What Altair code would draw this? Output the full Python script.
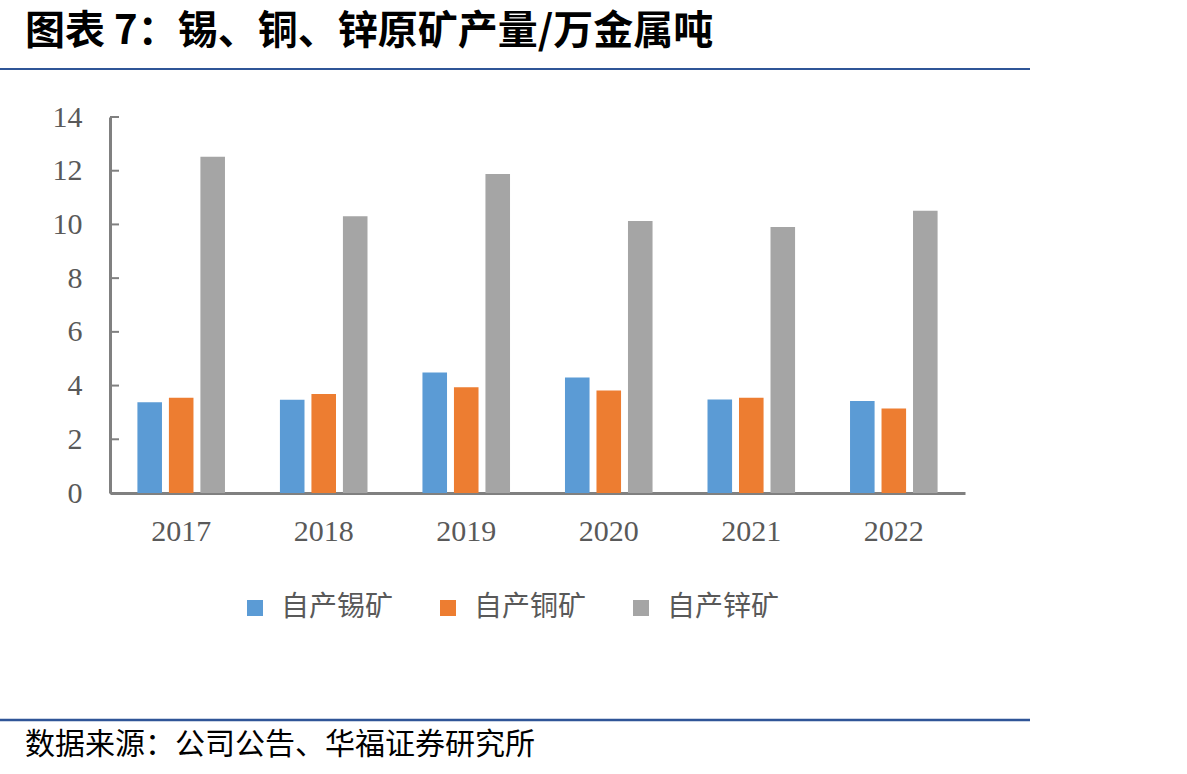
import altair as alt
import pandas as pd

years = ["2017", "2018", "2019", "2020", "2021", "2022"]
series = ["自产锡矿", "自产铜矿", "自产锌矿"]
tin = [3.38, 3.47, 4.49, 4.30, 3.48, 3.43]
copper = [3.55, 3.69, 3.94, 3.82, 3.55, 3.15]
zinc = [12.52, 10.30, 11.88, 10.13, 9.90, 10.51]
colors = ["#5B9BD5", "#ED7D31", "#A5A5A5"]
y_ticks = [0, 2, 4, 6, 8, 10, 12, 14]
title_text = "图表 7：锡、铜、锌原矿产量/万金属吨"
source_text = "数据来源：公司公告、华福证券研究所"

rows = []
for name, vals in zip(series, [tin, copper, zinc]):
    for yr, v in zip(years, vals):
        rows.append({"year": yr, "series": name, "value": v})
df = pd.DataFrame(rows)

W, H = 855, 376
PL, PT = 110, 117

yscale = alt.Scale(domain=[0, 14], nice=False)
yaxis = alt.Axis(title=None, values=y_ticks, grid=False, ticks=False,
                 domainColor="#808080", domainWidth=3,
                 labelFont="Liberation Serif", labelFontSize=30,
                 labelColor="#595959", labelPadding=28)

bars = alt.Chart(df).mark_bar().encode(
    x=alt.X("year:N", sort=years,
            scale=alt.Scale(paddingInner=0.337, paddingOuter=0.168),
            axis=alt.Axis(title=None, labelAngle=0, ticks=False, domainColor="#808080",
                          domainWidth=3, labelFont="Liberation Serif", labelFontSize=30,
                          labelColor="#595959", labelPadding=23)),
    xOffset=alt.XOffset("series:N", sort=series,
                        scale=alt.Scale(paddingInner=0.22, paddingOuter=0.11)),
    y=alt.Y("value:Q", scale=yscale, axis=yaxis),
    color=alt.Color("series:N", sort=series,
                    scale=alt.Scale(domain=series, range=colors),
                    legend=alt.Legend(title=None, orient="none", legendX=131, legendY=477,
                                      direction="horizontal", symbolType="square",
                                      symbolSize=256, symbolStrokeWidth=0,
                                      labelFont="Noto Sans CJK SC", labelFontSize=28,
                                      labelColor="#595959", columnPadding=40,
                                      labelOffset=12)),
)

tick_df = pd.DataFrame({"v": y_ticks})
ticks = alt.Chart(tick_df).mark_rule(color="#808080", strokeWidth=2).encode(
    y=alt.Y("v:Q", scale=yscale, axis=yaxis),
    x=alt.value(0), x2=alt.value(9),
)

one = pd.DataFrame({"t": [title_text], "s": [source_text]})
title = alt.Chart(one).mark_text(align="left", baseline="middle", font="Noto Sans CJK SC",
                                 fontWeight="bold", fontSize=40, color="#000000").encode(
    text="t:N", x=alt.value(25 - PL), y=alt.value(32 - PT))
source = alt.Chart(one).mark_text(align="left", baseline="middle", font="Noto Sans CJK SC",
                                  fontSize=30, color="#000000").encode(
    text="s:N", x=alt.value(25 - PL), y=alt.value(745 - PT))
line_top = alt.Chart(one).mark_rule(color="#2F5597", strokeWidth=2).encode(
    x=alt.value(0 - PL), x2=alt.value(1030 - PL), y=alt.value(69 - PT))
line_bot = alt.Chart(one).mark_rule(color="#2F5597", strokeWidth=2.5).encode(
    x=alt.value(0 - PL), x2=alt.value(1030 - PL), y=alt.value(720 - PT))

chart = alt.layer(bars, ticks, title, source, line_top, line_bot).properties(
    width=W, height=H,
    autosize=alt.AutoSizeParams(type="none"),
    padding={"left": PL, "top": PT, "right": 1187 - PL - W, "bottom": 774 - PT - H},
    background="#ffffff",
).configure_view(stroke=None)

chart.save("out.html", embed_options={"renderer": "svg", "actions": False})
